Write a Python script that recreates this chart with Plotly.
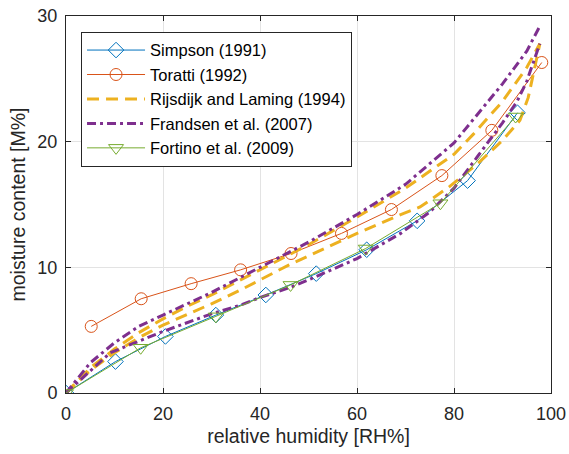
import plotly.graph_objects as go

# ---------------- data ----------------
simpson_rh = [0, 10.2, 20.5, 30.9, 41.2, 51.6, 62.0, 72.4, 82.8, 93.1]
simpson_mc = [0, 2.5, 4.5, 6.2, 7.8, 9.5, 11.4, 13.7, 16.9, 22.3]

toratti_rh = [5.2, 15.5, 25.8, 36.0, 46.4, 56.8, 67.1, 77.5, 87.8, 98.1]
toratti_mc = [5.3, 7.5, 8.7, 9.8, 11.1, 12.7, 14.6, 17.3, 20.9, 26.3]

rijs_a_rh = [0, 5, 10, 15, 20, 25, 30, 40, 50, 60, 70, 80, 84, 90, 95, 97.7]
rijs_a_mc = [0, 2.0, 3.5, 4.8, 5.9, 6.9, 7.8, 9.8, 11.8, 14.0, 16.3, 19.0, 20.6, 23.2, 25.9, 27.8]

rijs_b_rh = [0, 5, 10, 15, 20, 30, 36, 46, 50, 60, 69, 73, 79, 85, 90, 93.6, 95.3, 97.7]
rijs_b_mc = [0, 1.8, 3.2, 4.4, 5.4, 7.1, 8.2, 10.2, 10.9, 12.7, 14.2, 14.8, 16.4, 18.3, 20.1, 21.7, 23.5, 27.8]

frand_a_rh = [0, 5, 10, 15, 20, 25, 30, 40, 50, 60, 70, 80, 90, 95, 97.7]
frand_a_mc = [0, 2.4, 4.0, 5.3, 6.2, 7.1, 8.0, 10.0, 12.0, 14.2, 16.6, 19.9, 24.6, 27.2, 29.2]

frand_b_rh = [0, 5, 9.1, 20, 30, 36, 40, 46.2, 50, 60, 69, 75, 80, 85, 90, 93, 95, 97.7]
frand_b_mc = [0, 1.8, 3.2, 4.9, 6.3, 7.0, 7.6, 8.4, 9.0, 10.7, 12.7, 14.4, 16.3, 18.9, 21.5, 23.2, 24.8, 27.8]

fortino_rh = [0, 15.4, 30.9, 46.3, 61.8, 77.2, 92.7]
fortino_mc = [0, 3.6, 6.1, 8.6, 11.5, 15.1, 22.0]

x_ticks = [0, 20, 40, 60, 80, 100]
y_ticks = [0, 10, 20, 30]

# ---------------- style ----------------
BLUE = "#0072BD"
ORANGE = "#D95319"
YELLOW = "#EDB120"
PURPLE = "#7E2F8E"
GREEN = "#77AC30"
FONT = "Liberation Sans, Arial, sans-serif"
AX = "#262626"

fig = go.Figure()

fig.add_trace(go.Scatter(
    x=simpson_rh, y=simpson_mc, name="Simpson (1991)", mode="lines+markers",
    line=dict(color=BLUE, width=1),
    marker=dict(symbol="diamond-open", size=12, color=BLUE, line=dict(width=1))))

fig.add_trace(go.Scatter(
    x=toratti_rh, y=toratti_mc, name="Toratti (1992)", mode="lines+markers",
    line=dict(color=ORANGE, width=1),
    marker=dict(symbol="circle-open", size=12, color=ORANGE, line=dict(width=1))))

fig.add_trace(go.Scatter(
    x=rijs_a_rh, y=rijs_a_mc, name="Rijsdijk and Laming (1994)", mode="lines",
    legendgroup="rijs", line=dict(color=YELLOW, width=3, dash="12px,7px")))
fig.add_trace(go.Scatter(
    x=rijs_b_rh, y=rijs_b_mc, name="Rijsdijk and Laming (1994)", mode="lines",
    legendgroup="rijs", showlegend=False,
    line=dict(color=YELLOW, width=3, dash="12px,7px")))

fig.add_trace(go.Scatter(
    x=frand_a_rh, y=frand_a_mc, name="Frandsen et al. (2007)", mode="lines",
    legendgroup="frand", line=dict(color=PURPLE, width=3, dash="9px,4px,3px,4px")))
fig.add_trace(go.Scatter(
    x=frand_b_rh, y=frand_b_mc, name="Frandsen et al. (2007)", mode="lines",
    legendgroup="frand", showlegend=False,
    line=dict(color=PURPLE, width=3, dash="9px,4px,3px,4px")))

fig.add_trace(go.Scatter(
    x=fortino_rh, y=fortino_mc, name="Fortino et al. (2009)", mode="lines+markers",
    line=dict(color=GREEN, width=1),
    marker=dict(symbol="triangle-down-open", size=13, color=GREEN, line=dict(width=1))))

axis_common = dict(
    showline=True, linecolor=AX, linewidth=1, mirror="ticks",
    ticks="inside", ticklen=5, tickcolor=AX,
    showgrid=True, gridcolor="#e3e3e3", gridwidth=1,
    zeroline=False, automargin=False,
    tickfont=dict(family=FONT, size=18, color=AX),
)

fig.update_xaxes(range=[0, 100], tickvals=x_ticks, ticklabelstandoff=4,
                 title=dict(text="relative humidity [RH%]", font=dict(family=FONT, size=19.5, color=AX), standoff=6),
                 **axis_common)
fig.update_yaxes(range=[0, 30], tickvals=y_ticks, ticklabelstandoff=4,
                 title=dict(text="moisture content [M%]", font=dict(family=FONT, size=19.5, color=AX), standoff=6),
                 **axis_common)

fig.update_layout(
    width=569, height=454,
    margin=dict(l=66, r=18, t=16, b=61),
    paper_bgcolor="white", plot_bgcolor="white",
    font=dict(family=FONT, color=AX),
    legend=dict(x=0.031, y=0.958, xanchor="left", yanchor="top",
                bgcolor="white", bordercolor=AX, borderwidth=1,
                font=dict(family=FONT, size=16.5, color="#000000"),
                tracegroupgap=0, itemwidth=58),
)

# remove the browser's default 8px body margin so the figure fills the window
fig.write_html("out.html",
               config={"displayModeBar": False},
               post_script="document.body.style.margin='0';document.body.style.overflow='hidden';")
